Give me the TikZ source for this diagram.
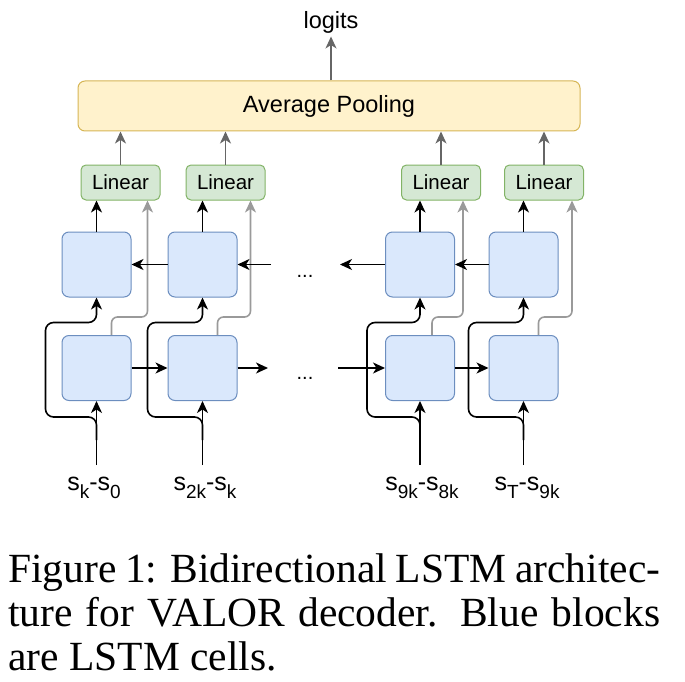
\documentclass[tikz,border=0pt]{standalone}
\usepackage{fontspec}
\setmainfont{Liberation Serif}
\newfontfamily\diagfont{Liberation Sans}
\usetikzlibrary{arrows.meta}

\definecolor{cellfill}{HTML}{DAE8FC}
\definecolor{celldraw}{HTML}{6C8EBF}
\definecolor{poolfill}{HTML}{FFF2CC}
\definecolor{pooldraw}{HTML}{D6B656}
\definecolor{linfill}{HTML}{D5E8D4}
\definecolor{lindraw}{HTML}{82B366}
\definecolor{skipgray}{HTML}{9A9A9A}
\definecolor{outgray}{HTML}{666666}

\newcommand{\lowidx}[1]{\raisebox{-0.3em}{\fontsize{19}{19}\selectfont #1}}

\tikzset{
	cell/.style={draw=celldraw, fill=cellfill, rounded corners=7pt, line width=1pt,
		minimum width=69pt, minimum height=65pt},
	linbox/.style={draw=lindraw, fill=linfill, rounded corners=5pt, line width=1pt,
		minimum width=79pt, minimum height=35pt, font=\diagfont\fontsize{20.5}{20.5}\selectfont},
	poolbox/.style={draw=pooldraw, fill=poolfill, rounded corners=7pt, line width=1pt,
		minimum width=502pt, minimum height=50pt, font=\diagfont\fontsize{23.5}{23.5}\selectfont},
	blk/.style={-{Stealth[length=12pt,width=11pt,inset=3.5pt]}, line width=1.6pt, black},
	skip/.style={-{Stealth[length=12pt,width=11pt,inset=3.5pt]}, line width=1.6pt, skipgray},
	outarrow/.style={-{Stealth[length=12pt,width=11pt,inset=3.5pt]}, line width=1.6pt, outgray},
	inlabel/.style={font=\diagfont\fontsize{25}{25}\selectfont, inner sep=0pt}
}

\begin{document}
\begin{tikzpicture}[x=1pt,y=-1pt]
		\useasboundingbox (0,0) rectangle (685,682);
		% top part
		\node[font=\diagfont\fontsize{23.5}{23.5}\selectfont] (logits) at (331,22) {logits};
		\node[poolbox] (pool) at (329,106) {Average Pooling};
		\node[linbox] (lin1) at (120.5,182.5) {Linear};
		\node[linbox] (lin2) at (225.5,182.5) {Linear};
		\node[linbox] (lin3) at (441,182.5) {Linear};
		\node[linbox] (lin4) at (544,182.5) {Linear};
		% lstm cells, backward row and forward row
		\node[cell] (u1) at (96.5,264.5) {};
		\node[cell] (u2) at (202.5,264.5) {};
		\node[cell] (u3) at (420,264.5) {};
		\node[cell] (u4) at (523.5,264.5) {};
		\node[cell] (l1) at (96.5,368) {};
		\node[cell] (l2) at (202.5,368) {};
		\node[cell] (l3) at (420,368) {};
		\node[cell] (l4) at (523.5,368) {};
		\node[font=\diagfont\fontsize{20}{20}\selectfont, inner sep=0pt] (dotsu) at (305,276) {...};
		\node[font=\diagfont\fontsize{20}{20}\selectfont, inner sep=0pt] (dotsl) at (305,378) {...};
		% inputs
		\coordinate (in1) at (96.5,465);
		\coordinate (in2) at (202.5,465);
		\coordinate (in3) at (420,465);
		\coordinate (in4) at (523.5,465);
		\node[inlabel] (s1) at (94,488) {s\lowidx{k}-s\lowidx{0}};
		\node[inlabel] (s2) at (205,488) {s\lowidx{2k}-s\lowidx{k}};
		\node[inlabel] (s3) at (422,488) {s\lowidx{9k}-s\lowidx{8k}};
		\node[inlabel] (s4) at (527,488) {s\lowidx{T}-s\lowidx{9k}};
		\coordinate (fr) at (268,368);
		\coordinate (fl) at (338,368);
		\coordinate (br) at (271,264.5);
		\coordinate (bl) at (340,264.5);

		% forward outputs going up to linear
		\draw[skip, rounded corners=6pt] ([xshift=15pt]l1.north) -- ++(0,-18) -| ([xshift=27pt]lin1.south);
		\draw[skip, rounded corners=6pt] ([xshift=15pt]l2.north) -- ++(0,-18) -| ([xshift=25pt]lin2.south);
		\draw[skip, rounded corners=6pt] ([xshift=12pt]l3.north) -- ++(0,-18) -| ([xshift=22pt]lin3.south);
		\draw[skip, rounded corners=6pt] ([xshift=15pt]l4.north) -- ++(0,-18) -| ([xshift=28pt]lin4.south);

		\draw[blk] (in1) -- (l1.south);
		\draw[blk] (in2) -- (l2.south);
		\draw[blk] (in3) -- (l3.south);
		\draw[blk] (in4) -- (l4.south);
		\draw[blk, rounded corners=8pt] ([yshift=25pt]in1) -- ++(0,-23) -- ++(-51,0) |- ([yshift=-25pt]u1.south) -- (u1.south);
		\draw[blk, rounded corners=8pt] ([yshift=25pt]in2) -- ++(0,-23) -- ++(-55,0) |- ([yshift=-25pt]u2.south) -- (u2.south);
		\draw[blk, rounded corners=8pt] ([yshift=25pt]in3) -- ++(0,-23) -- ++(-53,0) |- ([yshift=-25pt]u3.south) -- (u3.south);
		\draw[blk, rounded corners=8pt] ([yshift=25pt]in4) -- ++(0,-23) -- ++(-55,0) |- ([yshift=-25pt]u4.south) -- (u4.south);

		\draw[blk] (l1) -- (l2);
		\draw[blk] (l2) -- (fr);
		\draw[blk] (fl) -- (l3);
		\draw[blk] (l3) -- (l4);
		\draw[blk] (u2) -- (u1);
		\draw[blk] (br) -- (u2);
		\draw[blk] (u3) -- (bl);
		\draw[blk] (u4) -- (u3);

		\draw[blk] (u1.north) -- (u1.north |- lin1.south);
		\draw[blk] (u2.north) -- (u2.north |- lin2.south);
		\draw[blk] (u3.north) -- (u3.north |- lin3.south);
		\draw[blk] (u4.north) -- (u4.north |- lin4.south);

		\draw[outarrow] (lin1.north) -- (lin1.north |- pool.south);
		\draw[outarrow] (lin2.north) -- (lin2.north |- pool.south);
		\draw[outarrow] (lin3.north) -- (lin3.north |- pool.south);
		\draw[outarrow] (lin4.north) -- (lin4.north |- pool.south);
		\draw[outarrow] (pool.north -| logits.south) -- (logits.south);

		% caption
		\node[anchor=north west, text width=652pt, align=justify, inner sep=0pt,
			font=\fontsize{41.5}{44}\selectfont] (caption) at (8,553)
			{\hyphenpenalty=10000 \tolerance=9999 Figure 1: Bidirectional LSTM architec-\linebreak
			ture for VALOR decoder. Blue blocks\linebreak are LSTM cells.};
	\end{tikzpicture}
\end{document}
